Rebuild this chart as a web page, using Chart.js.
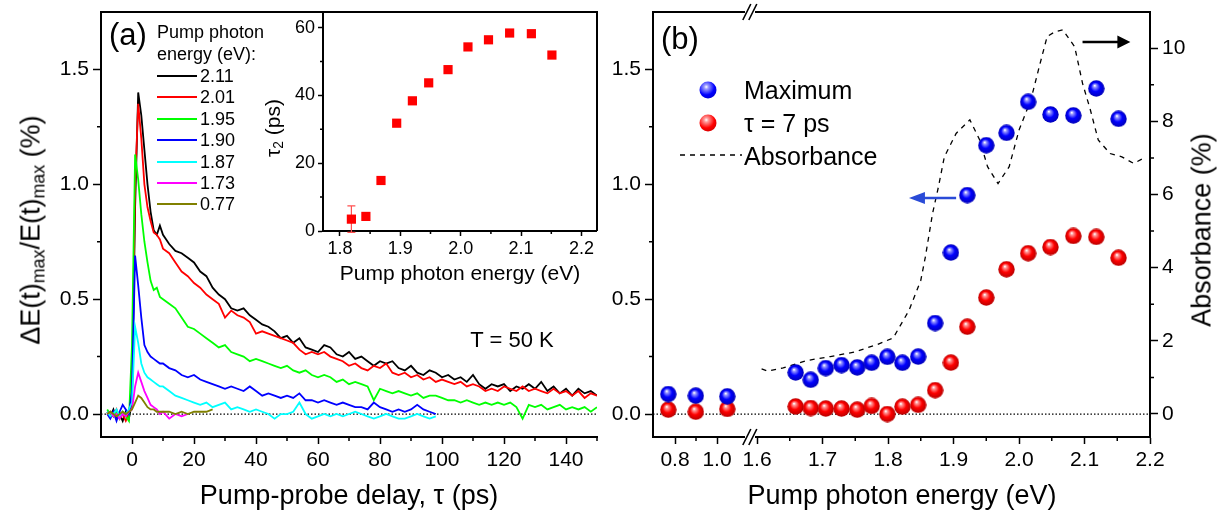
<!DOCTYPE html>
<html>
<head>
<meta charset="utf-8">
<script src="https://cdn.jsdelivr.net/npm/chart.js@4.4.1/dist/chart.umd.min.js"></script>
<style>
  body { margin: 0; background: #fff; }
  #figura { position: relative; width: 1227px; height: 516px; overflow: hidden;
            font-family: 'Liberation Sans', Arial, Helvetica, sans-serif; color: #000; }
  canvas { position: absolute; }
  .txt { position: absolute; white-space: nowrap; line-height: 1; }
  .centro { transform: translate(-50%, -50%); }
  .lm { transform: translateY(-50%); }
  .vert { transform: translate(-50%, -50%) rotate(-90deg); }
  sub { font-size: 66%; vertical-align: -0.28em; line-height: 0; }
  .traco { position: absolute; width: 40px; height: 2px; }
  .esfera { position: absolute; width: 17px; height: 17px; border-radius: 50%;
            transform: translate(-50%, -50%); }
</style>
</head>
<body>
<div id="figura">
  <canvas id="graficoA" width="600" height="516" style="left:0;top:0"></canvas>
  <canvas id="graficoInset" width="350" height="290" style="left:250px;top:0"></canvas>
  <canvas id="graficoB" width="627" height="516" style="left:600px;top:0"></canvas>

  <!-- painel (a) -->
  <div class="txt lm" style="left:109px;top:34px;font-size:31px">(a)</div>
  <div class="txt lm" style="left:157px;top:32px;font-size:18px">Pump photon</div>
  <div class="txt lm" style="left:157px;top:54px;font-size:18px">energy (eV):</div>
  <div id="legendaA"></div>
  <div class="txt centro" style="left:512px;top:340px;font-size:22px">T = 50 K</div>
  <div class="txt centro" style="left:349px;top:495px;font-size:27px">Pump-probe delay, &tau; (ps)</div>
  <div class="txt vert" style="left:31px;top:230px;font-size:27px">&Delta;E(t)<sub>max</sub>/E(t)<sub>max</sub> (%)</div>

  <!-- inset -->
  <div class="txt centro" style="left:460px;top:272px;font-size:21px">Pump photon energy (eV)</div>
  <div class="txt vert" style="left:272px;top:128px;font-size:21px">&tau;<sub>2</sub> (ps)</div>

  <!-- painel (b) -->
  <div class="txt lm" style="left:661px;top:38px;font-size:31px">(b)</div>
  <div class="esfera" style="left:708px;top:90px;background:radial-gradient(circle at 40% 32%, #fff 0, #9a9aff 14%, #0000ff 52%, #0000b4 100%)"></div>
  <div class="esfera" style="left:708px;top:123px;background:radial-gradient(circle at 40% 32%, #fff 0, #ff9a9a 14%, #ff0000 52%, #b40000 100%)"></div>
  <svg style="position:absolute;left:680px;top:150px" width="62" height="10">
    <line x1="0" y1="5" x2="62" y2="5" stroke="#000" stroke-width="1.4" stroke-dasharray="5,5"/>
  </svg>
  <div class="txt lm" style="left:744px;top:90px;font-size:25px">Maximum</div>
  <div class="txt lm" style="left:744px;top:123px;font-size:25px">&tau; = 7 ps</div>
  <div class="txt lm" style="left:744px;top:156px;font-size:25px">Absorbance</div>
  <div class="txt centro" style="left:902px;top:495px;font-size:27px">Pump photon energy (eV)</div>
  <div class="txt vert" style="left:1202px;top:230px;font-size:27px">Absorbance (%)</div>
</div>

<script>
// ---------- dados do painel (a): sinal vs atraso ----------
const delayPs = [-8, -7, -6, -5, -4, -3, -2, -1, 0, 1, 2, 3, 4, 5, 6, 7, 8, 9, 10,
  12, 14, 16, 18, 20, 22, 24, 26, 28, 30, 32, 34, 36, 38, 40, 42, 44, 46, 48, 50,
  52, 54, 56, 58, 60, 62, 64, 66, 68, 70, 72, 74, 76, 78, 80, 82, 84, 86, 88, 90,
  92, 94, 96, 98, 100, 102, 104, 106, 108, 110, 112, 114, 116, 118, 120, 122, 124, 126, 128, 130,
  132, 134, 136, 138, 140, 142, 144, 146, 148, 150];

const signal211 = [0.01, -0.01, 0.02, -0.02, 0.00, -0.03, 0.01, -0.02, 0.05, 0.90, 1.40, 1.30, 1.15, 1.00, 0.88, 0.80, 0.78, 0.82, 0.78,
  0.74, 0.71, 0.70, 0.68, 0.66, 0.62, 0.60, 0.55, 0.52, 0.50,
  0.46, 0.45, 0.46, 0.43, 0.41, 0.39, 0.38, 0.36, 0.33, 0.34,
  0.31, 0.33, 0.29, 0.28, 0.27, 0.30, 0.29, 0.26, 0.25, 0.27,
  0.24, 0.25, 0.23, 0.21, 0.23, 0.22, 0.23, 0.20, 0.19, 0.21,
  0.18, 0.17, 0.19, 0.18, 0.16, 0.17, 0.15, 0.16, 0.14, 0.17,
  0.13, 0.11, 0.13, 0.12, 0.13, 0.10, 0.12, 0.11, 0.13, 0.11,
  0.14, 0.10, 0.12, 0.09, 0.11, 0.08, 0.11, 0.09, 0.10, 0.08];

const signal201 = [0.00, 0.01, -0.01, 0.02, -0.02, 0.00, -0.03, 0.00, 0.10, 1.00, 1.35, 1.20, 1.00, 0.90, 0.84, 0.79, 0.78, 0.76, 0.72,
  0.70, 0.66, 0.62, 0.60, 0.57, 0.55, 0.52, 0.50, 0.48, 0.42,
  0.45, 0.43, 0.42, 0.40, 0.35, 0.36, 0.35, 0.34, 0.33, 0.32,
  0.31, 0.28, 0.26, 0.27, 0.26, 0.27, 0.25, 0.24, 0.23, 0.21,
  0.22, 0.20, 0.19, 0.21, 0.20, 0.22, 0.18, 0.17, 0.18, 0.16,
  0.17, 0.15, 0.16, 0.14, 0.15, 0.14, 0.13, 0.14, 0.12, 0.13,
  0.12, 0.10, 0.11, 0.10, 0.12, 0.11, 0.10, 0.12, 0.10, 0.11,
  0.10, 0.09, 0.11, 0.09, 0.10, 0.08, 0.10, 0.07, 0.09, 0.08];

const signal195 = [0.02, 0.00, -0.01, 0.01, -0.02, 0.01, -0.01, -0.03, 0.30, 1.13, 1.02, 0.87, 0.75, 0.66, 0.58, 0.54, 0.55, 0.51, 0.50,
  0.48, 0.46, 0.42, 0.38, 0.37, 0.35, 0.33, 0.31, 0.29, 0.30,
  0.27, 0.26, 0.25, 0.23, 0.24, 0.23, 0.22, 0.21, 0.20, 0.21,
  0.19, 0.18, 0.19, 0.17, 0.16, 0.17, 0.16, 0.14, 0.15, 0.13,
  0.14, 0.13, 0.12, 0.06, 0.11, 0.10, 0.09, 0.10, 0.09, 0.08,
  0.09, 0.07, 0.08, 0.08, 0.07, 0.06, 0.06, 0.05, 0.06, 0.05,
  0.04, 0.05, 0.04, 0.05, 0.04, 0.05, 0.03, -0.02, 0.04, 0.03,
  0.04, 0.02, 0.03, 0.04, 0.02, 0.03, 0.02, 0.03, 0.01, 0.03];

const signal190 = [0.00, -0.02, 0.01, -0.03, 0.01, 0.04, 0.02, 0.00, 0.10, 0.69, 0.56, 0.42, 0.30, 0.27, 0.25, 0.24, 0.23, 0.22, 0.22,
  0.20, 0.19, 0.17, 0.16, 0.17, 0.15, 0.14, 0.13, 0.12, 0.11,
  0.12, 0.11, 0.10, 0.12, 0.10, 0.08, 0.09, 0.08, 0.07, 0.08,
  0.07, 0.09, 0.06, 0.06, 0.05, 0.06, 0.05, 0.04, 0.05, 0.04,
  0.03, 0.03, 0.02, 0.05, 0.03, 0.02, 0.01, 0.02, 0.01, 0.02,
  0.04, 0.02, 0.01, 0.00];

const signal187 = [0.01, -0.01, 0.00, 0.02, -0.01, 0.01, 0.00, 0.02, 0.05, 0.38, 0.31, 0.22, 0.18, 0.16, 0.15, 0.14, 0.13, 0.12, 0.12,
  0.10, 0.08, 0.07, 0.06, 0.05, 0.04, 0.05, 0.03, 0.04, 0.05,
  0.02, 0.03, 0.02, 0.01, 0.02, 0.01, 0.00, -0.02, 0.00, 0.00,
  0.01, 0.05, 0.00, -0.02, -0.01, 0.00, -0.01, 0.00, -0.01, 0.00,
  0.01, 0.00, -0.01, -0.02, -0.01, 0.00, -0.01, -0.02, -0.02, -0.01,
  0.00, -0.01, -0.02, -0.01];

const signal173 = [0.00, 0.01, -0.01, 0.00, -0.02, 0.00, -0.01, 0.01, 0.02, 0.12, 0.18, 0.14, 0.10, 0.07, 0.04, 0.03, 0.02, 0.00, 0.01,
  -0.02, 0.00, -0.01, 0.00];

const signal077 = [0.00, 0.01, 0.00, -0.01, 0.00, 0.01, 0.00, 0.01, 0.02, 0.05, 0.08, 0.07, 0.05, 0.03, 0.02, 0.02, 0.01, 0.01, 0.01,
  0.01, 0.00, 0.01, 0.00, 0.01, 0.01, 0.01, 0.02];

const energyLabels = ['2.11', '2.01', '1.95', '1.90', '1.87', '1.73', '0.77'];
const curveSignals = [signal211, signal201, signal195, signal190, signal187, signal173, signal077];
const curveColors = ['#000000', '#ff0000', '#00ff00', '#0000ff', '#00ffff', '#ff00ff', '#808000'];

const delayTicks = [0, 20, 40, 60, 80, 100, 120, 140];
const delayMinor = [10, 30, 50, 70, 90, 110, 130, 150];
const signalTicks = [0, 0.5, 1.0, 1.5];
const signalMinor = [0.25, 0.75, 1.25];

// ---------- dados do inset: tau2 vs energia ----------
const tauEnergy = [1.819, 1.843, 1.868, 1.894, 1.920, 1.947, 1.979, 2.012, 2.046, 2.081, 2.117, 2.151];
const tau2 = [3.5, 4.3, 14.9, 31.8, 38.4, 43.7, 47.6, 54.3, 56.4, 58.4, 58.2, 51.9];
const tau2Err = [3.9, 0, 0, 0, 0, 0, 0, 0, 0, 0, 0, 0];
const insetETicks = [1.8, 1.9, 2.0, 2.1, 2.2];
const insetEMinor = [1.85, 1.95, 2.05, 2.15];
const tauTicks = [0, 20, 40, 60];
const tauMinor = [10, 30, 50];

// ---------- dados do painel (b) ----------
const pumpEnergy = [0.768, 0.899, 1.049, 1.659, 1.682, 1.705, 1.729, 1.753, 1.775, 1.799, 1.822,
  1.846, 1.872, 1.896, 1.921, 1.950, 1.981, 2.014, 2.048, 2.083, 2.118, 2.152];
const maxSignal = [0.087, 0.080, 0.077, 0.181, 0.149, 0.200, 0.213, 0.203, 0.223, 0.249, 0.223,
  0.250, 0.396, 0.703, 0.953, 1.170, 1.224, 1.359, 1.304, 1.300, 1.417, 1.285];
const signal7ps = [0.019, 0.010, 0.022, 0.033, 0.026, 0.024, 0.024, 0.019, 0.035, 0.000, 0.032,
  0.040, 0.104, 0.224, 0.380, 0.507, 0.630, 0.700, 0.727, 0.775, 0.771, 0.680];

const absEnergy = [1.607, 1.616, 1.640, 1.676, 1.712, 1.748, 1.784, 1.808, 1.832, 1.850, 1.857, 1.868,
  1.877, 1.886, 1.904, 1.925, 1.940, 1.952, 1.968, 1.985, 2.000, 2.018, 2.031, 2.043, 2.055, 2.067,
  2.085, 2.097, 2.109, 2.121, 2.139, 2.157, 2.175, 2.190];
const absorbance = [1.23, 1.17, 1.26, 1.46, 1.57, 1.69, 1.90, 2.08, 2.83, 3.65, 4.29, 5.48,
  6.21, 7.03, 7.67, 8.04, 7.49, 6.76, 6.30, 6.76, 7.76, 8.58, 9.50, 10.32, 10.45, 10.50,
  10.04, 9.04, 8.31, 7.49, 7.12, 7.03, 6.85, 6.99];

const energyTicks = [0.8, 1.0, 1.6, 1.7, 1.8, 1.9, 2.0, 2.1, 2.2];
const energyMinor = [0.9, 1.65, 1.75, 1.85, 1.95, 2.05, 2.15];
const absTicks = [0, 2, 4, 6, 8, 10];
const absMinor = [1, 3, 5, 7, 9];

// setas indicando o eixo de cada serie (coordenadas de dados)
const setaMaximo = { de: 1.904, ate: 1.832, nivel: 0.94 };
const setaAbsorb = { de: 2.097, ate: 2.170, nivel: 10.17 };

// Eixo quebrado: trecho 0.7-1.15 eV comprimido antes de 1.6 eV
function paraEixo(e) {
  return e >= 1.5 ? e : 1.4748 + (e - 0.8) * 0.3206;
}
const posQuebra = 1.589;

const fonte = "'Liberation Sans', Arial, Helvetica, sans-serif";
Chart.defaults.font.family = fonte;
Chart.defaults.color = '#000';

// ---------- utilitarios de desenho ----------
function tracosMenores(chart, idEscala, valores, comprimento) {
  const s = chart.scales[idEscala];
  const ctx = chart.ctx;
  ctx.save();
  ctx.strokeStyle = '#000';
  ctx.lineWidth = 1.5;
  ctx.beginPath();
  valores.forEach(v => {
    const p = s.getPixelForValue(v);
    if (s.isHorizontal()) {
      ctx.moveTo(p, s.top);
      ctx.lineTo(p, s.top + comprimento);
    } else if (s.position === 'left') {
      ctx.moveTo(s.right, p);
      ctx.lineTo(s.right - comprimento, p);
    } else {
      ctx.moveTo(s.left, p);
      ctx.lineTo(s.left + comprimento, p);
    }
  });
  ctx.stroke();
  ctx.restore();
}

function linhaTopo(chart, comDireita) {
  const a = chart.chartArea;
  const ctx = chart.ctx;
  ctx.save();
  ctx.strokeStyle = '#000';
  ctx.lineWidth = 2;
  ctx.beginPath();
  ctx.moveTo(a.left - 1, a.top);
  ctx.lineTo(a.right + 1, a.top);
  if (comDireita) ctx.lineTo(a.right + 1, a.bottom);
  ctx.stroke();
  ctx.restore();
}

function linhaZero(chart, idY) {
  const a = chart.chartArea;
  const y = chart.scales[idY].getPixelForValue(0);
  const ctx = chart.ctx;
  ctx.save();
  ctx.strokeStyle = '#000';
  ctx.lineWidth = 1.2;
  ctx.setLineDash([1.5, 2]);
  ctx.beginPath();
  ctx.moveTo(a.left, y);
  ctx.lineTo(a.right, y);
  ctx.stroke();
  ctx.restore();
}

function marcaQuebra(chart) {
  const x = chart.scales.x.getPixelForValue(posQuebra);
  const a = chart.chartArea;
  const ctx = chart.ctx;
  ctx.save();
  [a.top, a.bottom].forEach(y => {
    ctx.clearRect(x - 5, y - 3, 10, 6);
    ctx.strokeStyle = '#000';
    ctx.lineWidth = 1.6;
    ctx.beginPath();
    [-3, 3].forEach(d => {
      ctx.moveTo(x + d - 4, y + 8);
      ctx.lineTo(x + d + 4, y - 8);
    });
    ctx.stroke();
  });
  ctx.restore();
}

function seta(chart, idY, s, cor, cabeca, meia) {
  const ctx = chart.ctx;
  const x1 = chart.scales.x.getPixelForValue(s.de);
  const x2 = chart.scales.x.getPixelForValue(s.ate);
  const y = chart.scales[idY].getPixelForValue(s.nivel);
  const dir = Math.sign(x2 - x1);
  ctx.save();
  ctx.strokeStyle = cor;
  ctx.fillStyle = cor;
  ctx.lineWidth = 2.5;
  ctx.beginPath();
  ctx.moveTo(x1, y);
  ctx.lineTo(x2 - dir * cabeca * 0.8, y);
  ctx.stroke();
  ctx.beginPath();
  ctx.moveTo(x2, y);
  ctx.lineTo(x2 - dir * cabeca, y - meia);
  ctx.lineTo(x2 - dir * cabeca, y + meia);
  ctx.closePath();
  ctx.fill();
  ctx.restore();
}

// esfera sombreada usada como marcador
function criarEsfera(clara, cor, escura) {
  const c = document.createElement('canvas');
  c.width = 17;
  c.height = 17;
  const g = c.getContext('2d');
  const grad = g.createRadialGradient(6.8, 5.5, 0.4, 8.5, 8.5, 8.5);
  grad.addColorStop(0, '#ffffff');
  grad.addColorStop(0.14, clara);
  grad.addColorStop(0.52, cor);
  grad.addColorStop(1, escura);
  g.fillStyle = grad;
  g.beginPath();
  g.arc(8.5, 8.5, 8.2, 0, Math.PI * 2);
  g.fill();
  return c;
}

// eixo com tamanho fixo e sem o enchimento automatico dos rotulos
function eixoBase(min, max, ticks, tamanho, opcoes) {
  return Object.assign({
    type: 'linear',
    min: min,
    max: max,
    afterBuildTicks: s => { s.ticks = ticks.map(v => ({ value: v })); },
    afterFit: s => {
      if (s.isHorizontal()) s.height = tamanho; else s.width = tamanho;
      s.paddingTop = 0;
      s.paddingBottom = 0;
      s.paddingLeft = 0;
      s.paddingRight = 0;
    },
    grid: { drawOnChartArea: false, drawTicks: true, tickLength: 8, tickColor: '#000', tickWidth: 1.5 },
    border: { display: true, color: '#000', width: 2 },
    ticks: { color: '#000', font: { family: fonte, size: 21 }, padding: 4, autoSkip: false, maxRotation: 0 }
  }, opcoes);
}

// ---------- legenda do painel (a) ----------
const legendaA = document.getElementById('legendaA');
energyLabels.forEach((rotulo, i) => {
  const y = 76 + i * 21.4;
  legendaA.innerHTML += `<div class="traco" style="left:157px;top:${y - 1}px;background:${curveColors[i]}"></div>` +
    `<div class="txt lm" style="left:200px;top:${y}px;font-size:18px">${rotulo}</div>`;
});

// ---------- painel (a) ----------
const curvas = curveSignals.map((serie, i) => ({
  label: energyLabels[i],
  data: serie.map((v, k) => ({ x: delayPs[k], y: v })),
  borderColor: curveColors[i],
  borderWidth: 1.8,
  pointRadius: 0,
  tension: 0,
  order: curveSignals.length - i
}));

const eixoXA = eixoBase(-10, 150, delayTicks, 79);
eixoXA.grid.tickLength = 7;
eixoXA.ticks.callback = v => String(v);

const eixoYA = eixoBase(-0.1, 1.75, signalTicks, 101);
eixoYA.ticks.callback = v => v.toFixed(1);

new Chart(document.getElementById('graficoA'), {
  type: 'line',
  data: { datasets: curvas },
  options: {
    responsive: false,
    animation: false,
    layout: { padding: { top: 12, right: 3, left: 0, bottom: 0 }, autoPadding: false },
    plugins: { legend: { display: false }, tooltip: { enabled: false } },
    scales: { x: eixoXA, y: eixoYA }
  },
  plugins: [{
    id: 'molduraA',
    beforeDatasetsDraw(chart) { linhaZero(chart, 'y'); },
    afterDraw(chart) {
      linhaTopo(chart, false);
      tracosMenores(chart, 'x', delayMinor, 4);
      tracosMenores(chart, 'y', signalMinor, 4);
    }
  }]
});

// ---------- inset ----------
const eixoXI = eixoBase(1.772, 2.224, insetETicks, 59);
eixoXI.grid.tickLength = 5;
eixoXI.ticks.font = { family: fonte, size: 18 };
eixoXI.ticks.padding = 2;
eixoXI.ticks.callback = v => v.toFixed(1);

const eixoYI = eixoBase(0, 64.6, tauTicks, 73);
eixoYI.grid.tickLength = 5;
eixoYI.ticks.font = { family: fonte, size: 18 };
eixoYI.ticks.padding = 3;
eixoYI.ticks.callback = v => String(v);

new Chart(document.getElementById('graficoInset'), {
  type: 'scatter',
  data: {
    datasets: [{
      data: tau2.map((v, i) => ({ x: tauEnergy[i], y: v })),
      pointStyle: 'rect',
      pointRadius: 6.5,
      backgroundColor: '#ff0000',
      borderColor: '#ff0000',
      borderWidth: 0
    }]
  },
  options: {
    responsive: false,
    animation: false,
    layout: { padding: { top: 12, right: 4, left: 0, bottom: 0 }, autoPadding: false },
    plugins: { legend: { display: false }, tooltip: { enabled: false } },
    scales: { x: eixoXI, y: eixoYI }
  },
  plugins: [{
    id: 'erroInset',
    beforeDatasetsDraw(chart) {
      const ctx = chart.ctx;
      const sx = chart.scales.x, sy = chart.scales.y;
      ctx.save();
      ctx.strokeStyle = '#ff5050';
      ctx.lineWidth = 1.2;
      tau2Err.forEach((e, i) => {
        if (!e) return;
        const x = sx.getPixelForValue(tauEnergy[i]);
        const y1 = sy.getPixelForValue(tau2[i] - e);
        const y2 = sy.getPixelForValue(tau2[i] + e);
        ctx.beginPath();
        ctx.moveTo(x, y1); ctx.lineTo(x, y2);
        ctx.moveTo(x - 4, y1); ctx.lineTo(x + 4, y1);
        ctx.moveTo(x - 4, y2); ctx.lineTo(x + 4, y2);
        ctx.stroke();
      });
      ctx.restore();
    },
    afterDraw(chart) {
      linhaTopo(chart, true);
      tracosMenores(chart, 'x', insetEMinor, 3);
      tracosMenores(chart, 'y', tauMinor, 3);
    }
  }]
});

// ---------- painel (b) ----------
const esferaAzul = criarEsfera('#9a9aff', '#0000ff', '#0000b4');
const esferaVermelha = criarEsfera('#ff9a9a', '#ff0000', '#b40000');

const eixoXB = eixoBase(1.4412, 2.2, energyTicks.map(paraEixo), 79);
eixoXB.grid.tickLength = 7;
eixoXB.ticks.callback = (v, i) => energyTicks[i].toFixed(1);

const eixoYB = eixoBase(-0.1, 1.75, signalTicks, 53, { position: 'left' });
eixoYB.ticks.callback = v => v.toFixed(1);

const eixoY2B = eixoBase(-0.63, 10.99, absTicks, 77, { position: 'right' });
eixoY2B.ticks.callback = v => String(v);

new Chart(document.getElementById('graficoB'), {
  type: 'scatter',
  data: {
    datasets: [{
      label: 'Maximum',
      data: maxSignal.map((v, i) => ({ x: paraEixo(pumpEnergy[i]), y: v })),
      yAxisID: 'y',
      pointStyle: esferaAzul,
      pointRadius: 8.5
    }, {
      label: 'τ = 7 ps',
      data: signal7ps.map((v, i) => ({ x: paraEixo(pumpEnergy[i]), y: v })),
      yAxisID: 'y',
      pointStyle: esferaVermelha,
      pointRadius: 8.5
    }, {
      label: 'Absorbance',
      data: absorbance.map((v, i) => ({ x: paraEixo(absEnergy[i]), y: v })),
      yAxisID: 'y2',
      showLine: true,
      borderColor: '#000',
      borderWidth: 1.3,
      borderDash: [5, 5],
      pointRadius: 0,
      tension: 0
    }]
  },
  options: {
    responsive: false,
    animation: false,
    layout: { padding: { top: 12, right: 0, left: 0, bottom: 0 }, autoPadding: false },
    plugins: { legend: { display: false }, tooltip: { enabled: false } },
    scales: { x: eixoXB, y: eixoYB, y2: eixoY2B }
  },
  plugins: [{
    id: 'molduraB',
    beforeDatasetsDraw(chart) { linhaZero(chart, 'y'); },
    afterDraw(chart) {
      linhaTopo(chart, false);
      tracosMenores(chart, 'x', energyMinor.map(paraEixo), 4);
      tracosMenores(chart, 'y', signalMinor, 4);
      tracosMenores(chart, 'y2', absMinor, 4);
      marcaQuebra(chart);
      seta(chart, 'y', setaMaximo, '#2a4bd7', 16, 6);
      seta(chart, 'y2', setaAbsorb, '#000', 13, 6.5);
    }
  }]
});
</script>
</body>
</html>
